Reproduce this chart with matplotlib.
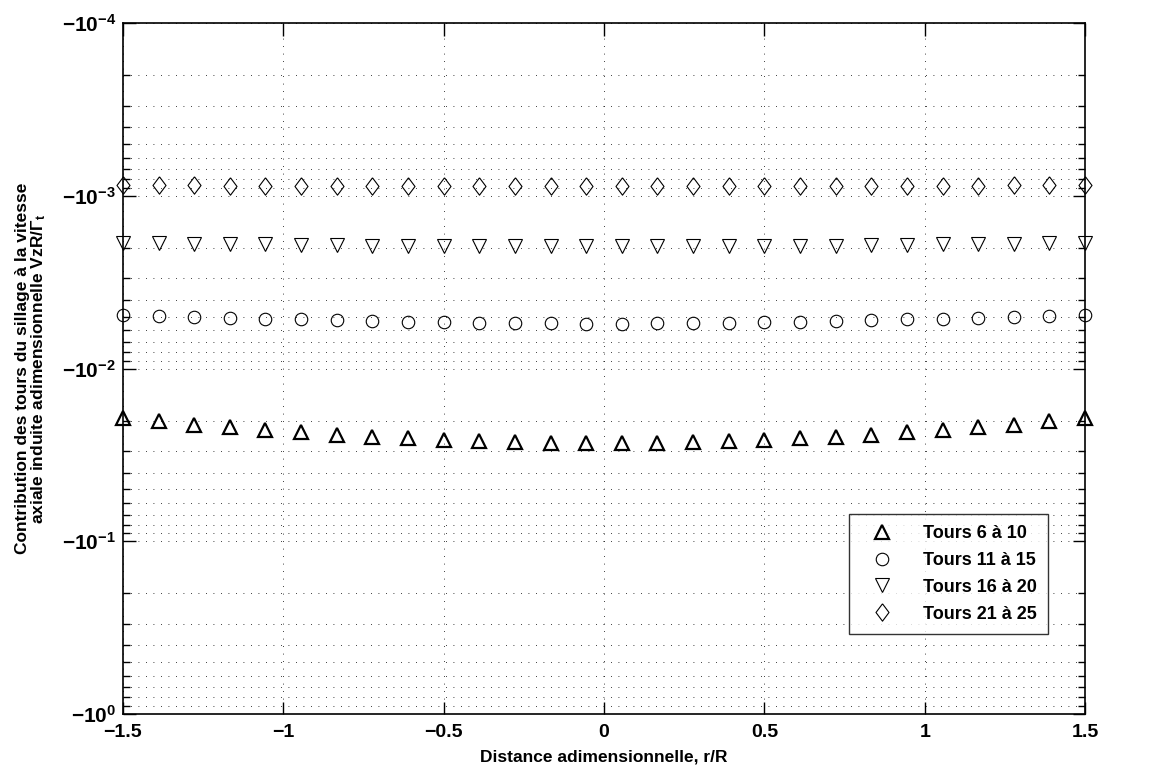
import numpy as np
import matplotlib.pyplot as plt
from matplotlib.ticker import FixedLocator, LogLocator, NullFormatter

plt.rcParams['font.family'] = ['Liberation Sans', 'DejaVu Sans']
plt.rcParams['font.weight'] = 'bold'
plt.rcParams['mathtext.fontset'] = 'custom'
plt.rcParams['mathtext.rm'] = 'Liberation Sans:bold'
plt.rcParams['mathtext.bf'] = 'Liberation Sans:bold'
plt.rcParams['mathtext.it'] = 'Liberation Sans:italic'
plt.rcParams['mathtext.default'] = 'rm'

# positions radiales (28 points de -1.5 a 1.5)
r = np.linspace(-1.5, 1.5, 28)

# demi-profils (de r=-1.5 vers le centre), symetriques
tours_6_10_half = [0.0194, 0.0202, 0.0211, 0.0218, 0.0226, 0.0233, 0.0241,
                   0.0248, 0.0254, 0.0259, 0.0264, 0.0267, 0.0269, 0.0271]
tours_11_15_half = [0.00490, 0.00495, 0.00501, 0.00508, 0.00515, 0.00519, 0.00526,
                    0.00531, 0.00536, 0.00540, 0.00543, 0.00545, 0.00547, 0.00549]
tours_16_20_half = [0.00187, 0.00188, 0.00189, 0.00190, 0.00191, 0.00192, 0.00193,
                    0.00194, 0.00194, 0.00195, 0.00195, 0.00196, 0.00196, 0.00196]
tours_21_25_half = [0.000867, 0.000869, 0.000871, 0.000872, 0.000874, 0.000875, 0.000876,
                    0.000877, 0.000878, 0.000879, 0.000879, 0.000880, 0.000880, 0.000880]

# losange style MATLAB (un peu plus haut que large)
losange = [(0, 1), (0.75, 0), (0, -1), (-0.75, 0), (0, 1)]

series = [
    ('Tours 6 à 10', tours_6_10_half, '^', 10, 1.6),
    ('Tours 11 à 15', tours_11_15_half, 'o', 9, 0.8),
    ('Tours 16 à 20', tours_16_20_half, 'v', 10, 0.8),
    ('Tours 21 à 25', tours_21_25_half, losange, 12.5, 0.8),
]

fig = plt.figure(figsize=(11.71, 7.70), dpi=100)
ax = fig.add_axes([0.105, 0.0727, 0.8216, 0.8973])

for label, half, marker, ms, mew in series:
    vals = np.array(half + half[::-1])
    ax.plot(r, vals, linestyle='none', marker=marker, markersize=ms,
            markerfacecolor='none', markeredgecolor='black',
            markeredgewidth=mew, label=label, clip_on=False)

ax.set_yscale('log')
ax.set_ylim(1e-4, 1e0)
ax.invert_yaxis()
ax.set_xlim(-1.5, 1.5)

# ticks
ax.xaxis.set_major_locator(FixedLocator([-1.5, -1, -0.5, 0, 0.5, 1, 1.5]))
ax.set_xticklabels(['\u22121.5', '\u22121', '\u22120.5', '0', '0.5', '1', '1.5'])
ax.yaxis.set_major_locator(FixedLocator([1e-4, 1e-3, 1e-2, 1e-1, 1e0]))
ax.set_yticklabels(['$\u221210^{-4}$', '$\u221210^{-3}$', '$\u221210^{-2}$',
                    '$\u221210^{-1}$', '$\u221210^{0}$'])
ax.yaxis.set_minor_locator(LogLocator(base=10, subs=np.arange(2, 10)))
ax.yaxis.set_minor_formatter(NullFormatter())
ax.tick_params(axis='both', which='major', direction='in', length=9, width=1,
               top=True, right=True, labelsize=14)
ax.tick_params(axis='y', which='major', labelsize=15, pad=5)
ax.tick_params(axis='x', which='major', pad=7)
ax.tick_params(axis='y', which='minor', direction='in', length=5, width=1,
               right=True)
ax.tick_params(axis='x', which='minor', bottom=False, top=False)
for lab in ax.get_xticklabels() + ax.get_yticklabels():
    lab.set_fontweight('bold')

for s in ax.spines.values():
    s.set_linewidth(1.2)

ax.grid(True, which='major', axis='x', color='black', linewidth=0.6,
        linestyle=(0, (1, 8)))
ax.grid(True, which='both', axis='y', color='black', linewidth=0.6,
        linestyle=(0, (1, 8)))

ax.set_xlabel('Distance adimensionnelle, r/R', fontsize=12.5, fontweight='bold',
              labelpad=6)
ax.set_ylabel('Contribution des tours du sillage à la vitesse\n'
              'axiale induite adimensionnelle VzR/$\\Gamma_{t}$',
              fontsize=12.5, fontweight='bold', labelpad=10, linespacing=0.95)

leg = ax.legend(loc='upper left', bbox_to_anchor=(0.7547, 0.2894),
                frameon=True, fancybox=False, borderpad=0.6,
                handlelength=2.4, handletextpad=1.1, labelspacing=0.55,
                borderaxespad=0, prop={'weight': 'bold', 'size': 13})
leg.get_frame().set_edgecolor('black')
leg.get_frame().set_linewidth(1.0)

fig.savefig('out.png', dpi=100)
